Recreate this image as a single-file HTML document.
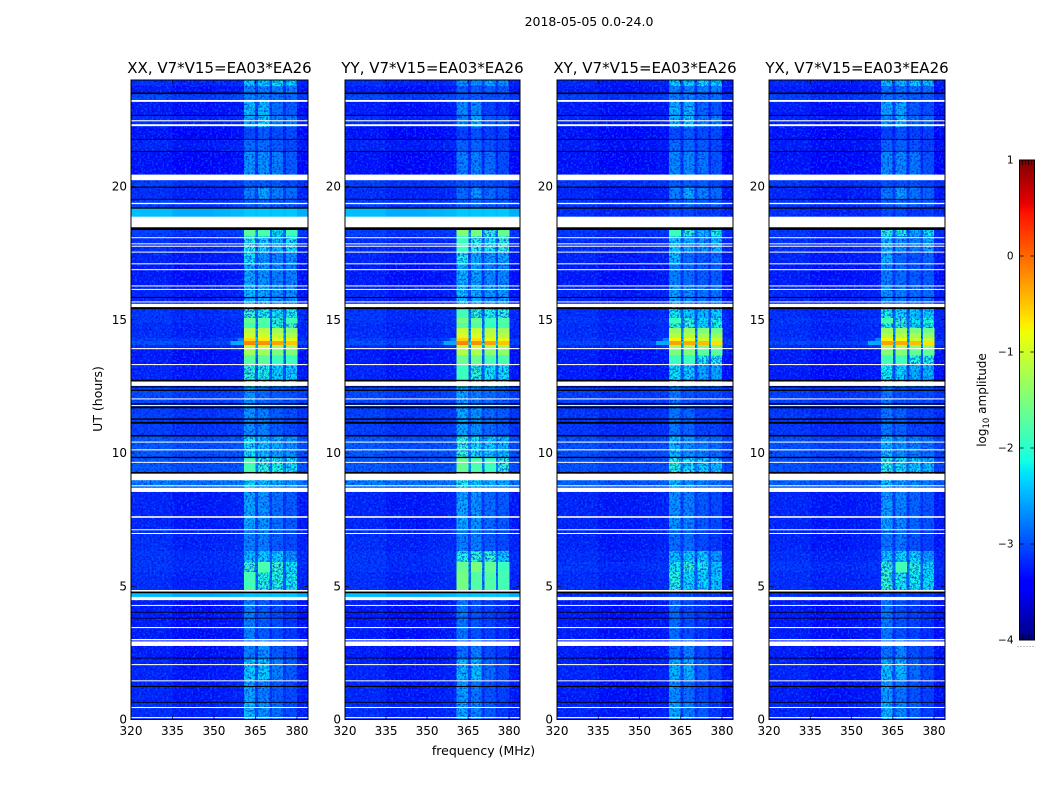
<!DOCTYPE html>
<html lang="en">
<head>
<meta charset="utf-8">
<title>2018-05-05 0.0-24.0</title>
<style>
html,body{margin:0;padding:0;background:#fff;}
#chart{display:block;width:1050px;height:800px;font-family:"DejaVu Sans","Liberation Sans",sans-serif;fill:#000;}
.tick{font-size:12px;}
.label{font-size:12.5px;}
.ptitle{font-size:15px;}
</style>
</head>
<body>
<svg id="chart" xmlns="http://www.w3.org/2000/svg" width="1050" height="800" viewBox="0 0 1050 800">
  <defs>
    <filter id="speckle-light" x="0" y="0" width="100%" height="100%" color-interpolation-filters="sRGB">
      <feTurbulence type="fractalNoise" baseFrequency="0.48" numOctaves="2" seed="4"/>
      <feColorMatrix type="matrix" values="0 0 0 0 0  0 0 0 0 0.36  0 0 0 0 1  8 0 0 0 -4.2"/>
    </filter>
    <filter id="speckle-dark" x="0" y="0" width="100%" height="100%" color-interpolation-filters="sRGB">
      <feTurbulence type="fractalNoise" baseFrequency="0.48" numOctaves="2" seed="11"/>
      <feColorMatrix type="matrix" values="0 0 0 0 0  0 0 0 0 0  0 0 0 0 0.8  0 8 0 0 -4.2"/>
    </filter>
  </defs>
  <text x="589" y="26" text-anchor="middle" class="label">2018-05-05 0.0-24.0</text>
  <text x="0" y="0" text-anchor="middle" class="label" transform="translate(102,399) rotate(-90)">UT (hours)</text>
  <text x="483.5" y="755" text-anchor="middle" class="label">frequency (MHz)</text>
  <text x="0" y="0" text-anchor="middle" font-size="12" transform="translate(986,400) rotate(-90)">log<tspan font-size="8.5" dy="3">10</tspan><tspan dy="-3"> amplitude</tspan></text>
  <g id="panels"></g>
  <g id="colorbar"></g>
</svg>
<script>
// ---- chart data ----
const panelTitles = ["XX, V7*V15=EA03*EA26", "YY, V7*V15=EA03*EA26", "XY, V7*V15=EA03*EA26", "YX, V7*V15=EA03*EA26"];
const xTicks = [320, 335, 350, 365, 380];
const yTicks = [0, 5, 10, 15, 20];
const colorTicks = [-4, -3, -2, -1, 0, 1];
const freqEdges = [320, 335, 350, 356, 360.8, 364.9, 366, 370, 371, 375, 376, 380, 384];
// offset in log10 amplitude of each background bin relative to the band level
const bgTilt = [0.05, -0.03, 0.0, 0.03];
const bgTiltRight = -0.02;
// UT hours bounding each time band, top to bottom
const bandEdges = [24,23.77,23.51,23.25,22.68,22.23,21.78,21.33,20.43,20.24,19.98,19.53,19.17,18.87,18.37,18.14,17.54,17.09,16.31,15.41,15.07,14.88,14.69,14.50,14.32,14.20,14.05,13.87,13.68,13.30,12.48,11.69,10.64,9.81,9.21,8.72,7.11,6.33,5.91,5.54,4.75,4.60,2.99,2.24,1.49,0.66,0];
const bgParallel = [-3.2,-3.3,-3.05,-3.3,-3.2,-3.35,-3.25,-3.35,-3.1,-3.1,-3.2,-3.1,-2.5,-3.2,-3.1,-3.2,-3.25,-3.3,-3.25,-3.15,-3.15,-3.2,-3.2,-3.2,-3.1,-3.0,-3.2,-3.3,-3.3,-3.25,-3.05,-3.1,-2.95,-2.95,-2.75,-3.25,-3.2,-3.15,-3.15,-3.2,-2.5,-3.3,-3.3,-3.25,-3.25,-3.2];
const bgCross = [-3.25,-3.3,-3.1,-3.3,-3.25,-3.35,-3.3,-3.35,-3.1,-3.15,-3.25,-3.15,-3.2,-3.2,-3.15,-3.2,-3.25,-3.3,-3.25,-3.2,-3.15,-3.2,-3.2,-3.2,-3.15,-3.05,-3.2,-3.3,-3.3,-3.3,-3.1,-3.15,-3.0,-3.0,-2.9,-3.25,-3.25,-3.2,-3.15,-3.2,-3.2,-3.3,-3.3,-3.25,-3.3,-3.25];
// XX level of the four spectral windows in each band
const chanXX = [
[-2.3,-2.3,-2.2,-2.3],[-2.7,-2.7,-2.7,-2.7],[-2.7,-2.7,-2.8,-2.8],[-2.4,-2.4,-2.8,-2.9],
[-2.5,-2.3,-2.7,-2.7],[-3.0,-2.9,-3.0,-3.0],[-2.8,-2.8,-2.9,-3.0],[-2.6,-2.6,-2.7,-2.9],
[-2.9,-2.9,-2.9,-2.9],[-2.9,-2.9,-2.9,-3.0],[-2.7,-2.5,-2.7,-2.8],[-2.9,-2.8,-2.9,-2.9],
[-2.5,-2.5,-2.6,-2.7],[-2.9,-2.9,-2.9,-2.9],[-1.7,-1.8,-2.2,-1.9],[-2.1,-2.3,-2.4,-2.2],
[-2.2,-2.6,-2.7,-2.6],[-2.5,-2.6,-2.7,-2.7],[-2.4,-2.5,-2.6,-2.6],[-1.95,-2.1,-2.2,-2.1],
[-1.65,-1.75,-2.0,-1.85],[-1.85,-1.85,-2.05,-1.95],[-1.15,-1.15,-1.3,-1.4],[-1.0,-1.0,-1.1,-1.2],
[-0.6,-0.7,-0.9,-0.9],[-0.15,-0.2,-0.3,-0.5],[-1.1,-1.1,-1.3,-1.3],[-1.3,-1.3,-1.5,-1.5],
[-1.7,-1.7,-1.9,-1.9],[-2.0,-2.1,-2.3,-2.3],[-2.6,-2.8,-2.9,-3.0],[-2.6,-2.7,-2.9,-3.0],
[-2.2,-2.4,-2.5,-2.6],[-1.85,-2.0,-2.1,-2.2],[-2.2,-2.4,-2.5,-2.6],[-2.5,-2.6,-2.8,-2.9],
[-2.7,-2.7,-2.9,-3.0],[-2.4,-2.3,-2.3,-2.6],[-1.95,-1.8,-1.95,-2.2],[-1.85,-2.05,-2.05,-2.15],
[-2.5,-2.5,-2.6,-2.7],[-2.7,-2.9,-3.0,-3.1],[-2.7,-2.6,-2.9,-3.0],[-2.3,-2.3,-2.7,-2.9],
[-2.5,-2.7,-2.9,-3.0],[-2.4,-2.6,-2.8,-3.0]
];
// per-band channel level shift of the other three correlations against XX
const offsetYY = [-0.3,-0.2,-0.2,-0.25,-0.2,-0.05,-0.05,-0.1,0,-0.05,-0.1,0,-0.05,0,0.25,0.2,0.1,0.05,0.05,0.1,0.1,0.1,0.1,0.05,0.05,0,0.05,0.1,0.1,0.1,0.1,0.1,0.2,0.2,0.1,0,0,0.3,0.3,0.3,0,-0.05,-0.1,-0.1,-0.05,-0.1];
const offsetXY = [0,0,0,-0.05,0,0,0,-0.05,0,0,0,0,-0.5,0,-0.2,-0.2,-0.2,-0.2,-0.15,-0.2,-0.25,-0.2,-0.2,-0.15,-0.15,-0.15,-0.2,-0.2,-0.2,-0.2,-0.15,-0.15,-0.2,-0.2,-0.2,-0.1,-0.1,0,-0.2,-0.2,-0.5,-0.1,-0.1,-0.15,-0.1,-0.1];
const offsetYX = [-0.1,-0.1,-0.1,-0.1,-0.1,-0.05,-0.05,-0.05,0,-0.05,-0.05,0,-0.5,0,-0.3,-0.3,-0.25,-0.2,-0.2,-0.15,-0.2,-0.2,-0.2,-0.15,-0.15,-0.15,-0.15,-0.15,-0.15,-0.15,-0.15,-0.15,-0.2,-0.2,-0.15,-0.05,-0.05,0.05,-0.05,-0.1,-0.5,-0.05,-0.05,-0.1,-0.05,-0.05];
const chanOffsets = [null, offsetYY, offsetXY, offsetYX];
// faint spill of the RFI burst below the first window: [hourTop, hourBottom, freqLow, freqHigh, level]
const spillBurst = [14.2, 14.05, 356, 360.8, -2.55];
const spillUpper = [14.32, 14.2, 358.5, 360.8, -2.75];
// time ranges flagged out (white) and instrument gaps (black): [hourTop, hourBottom]
const whiteFlags = [[23.25,23.18],[22.49,22.45],[22.34,22.27],[20.45,20.24],[19.39,19.34],[18.87,18.47],[18.10,18.07],[17.87,17.84],[17.78,17.75],[17.56,17.53],[17.12,17.09],[16.90,16.87],[16.29,16.26],[16.16,16.13],[15.69,15.66],[15.60,15.48],[13.94,13.90],[13.34,13.30],[12.68,12.52],[12.05,12.02],[11.80,11.77],[10.43,10.40],[10.14,10.10],[9.67,9.64],[9.22,8.98],[8.79,8.76],[8.70,8.54],[7.63,7.57],[7.14,7.11],[7.00,6.97],[4.86,4.80],[4.60,4.48],[4.30,4.27],[3.47,3.43],[3.02,2.97],[2.93,2.76],[2.08,2.04],[1.47,1.44],[0.47,0.43],[0.09,0.05]];
const blackLines = [[23.53,23.47],[22.69,22.66],[21.79,21.77],[21.34,21.32],[20.00,19.96],[19.54,19.52],[19.22,19.17],[18.47,18.37],[15.86,15.82],[15.46,15.40],[12.75,12.70],[12.50,12.46],[12.38,12.33],[11.87,11.82],[11.75,11.68],[11.30,11.25],[11.17,11.10],[10.68,10.62],[9.86,9.81],[9.29,9.24],[4.80,4.74],[4.04,4.02],[3.82,3.80],[2.32,2.29],[1.26,1.22],[0.66,0.63]];

// ---- axis functions ----
const panelLeft = [131, 345, 557, 769];
const panelWidth = [177, 175, 176, 176];
const plotTop = 80, plotBottom = 719.5;
const freqMin = 320, freqMax = 384, hourMax = 24;
function xScale(p, f) { return panelLeft[p] + (f - freqMin) / (freqMax - freqMin) * panelWidth[p]; }
function yScale(h) { return plotBottom - h / hourMax * (plotBottom - plotTop); }
function interp(t, xs, ys) {
  for (let i = 1; i < xs.length; i++) {
    if (t <= xs[i]) return ys[i - 1] + (t - xs[i - 1]) / (xs[i] - xs[i - 1]) * (ys[i] - ys[i - 1]);
  }
  return ys[ys.length - 1];
}
function jet(v) {
  const t = Math.max(0, Math.min(1, (v + 4) / 5));
  const r = interp(t, [0, .35, .66, .89, 1], [0, 0, 1, 1, .5]);
  const g = interp(t, [0, .125, .375, .64, .91, 1], [0, 0, 1, 1, 0, 0]);
  const b = interp(t, [0, .11, .34, .65, 1], [.5, 1, 1, 0, 0]);
  return "rgb(" + Math.round(r * 255) + "," + Math.round(g * 255) + "," + Math.round(b * 255) + ")";
}
const NS = "http://www.w3.org/2000/svg";
function mk(tag, attrs, parent) {
  const el = document.createElementNS(NS, tag);
  for (const k in attrs) el.setAttribute(k, attrs[k]);
  parent.appendChild(el);
  return el;
}
function bandBackground(p, band) { return (p < 2 ? bgParallel : bgCross)[band]; }
function cellLevel(p, band, bin) {
  const bg = bandBackground(p, band);
  const off = chanOffsets[p] ? chanOffsets[p][band] : 0;
  const ch = chanXX[band].map(function (c) { return c + off; });
  if (bin < 4) return bg + bgTilt[bin];
  if (bin === 11) return bg + bgTiltRight;
  const k = bin - 4;
  if (k % 2 === 0) return Math.max(ch[k / 2], bg + 0.1);
  const mean = (ch[(k - 1) / 2] + ch[(k + 1) / 2]) / 2;
  return Math.max(bg + 0.3 * (mean - bg), bg + 0.05);
}

// ---- draw the four panels ----
const panelsRoot = document.getElementById("panels");
panelTitles.forEach(function (title, p) {
  const g = mk("g", {}, panelsRoot);
  
  

  const cells = mk("g", { "shape-rendering": "crispEdges" }, g);
  
  

  const w = panelWidth[p], h = plotBottom - plotTop;
  const lightNoise = mk("rect", { x: panelLeft[p], y: plotTop, width: w, height: h, filter: "url(#speckle-light)", opacity: 0.7 }, g);
  
  
  const darkNoise = mk("rect", { x: panelLeft[p], y: plotTop, width: w, height: h, filter: "url(#speckle-dark)", opacity: 0.5 }, g);
  
  

  // strong, smooth signal is drawn above the speckle layers
  const brightCells = mk("g", { "shape-rendering": "crispEdges" }, g);
  
  

  for (let b = 0; b < bandEdges.length - 1; b++) {
    for (let f = 0; f < freqEdges.length - 1; f++) {
      const x0 = xScale(p, freqEdges[f]), x1 = xScale(p, freqEdges[f + 1]);
      const y0 = yScale(bandEdges[b]), y1 = yScale(bandEdges[b + 1]);
      const level = cellLevel(p, b, f);
      const smooth = level > -1.95 || bandBackground(p, b) > -2.6;
      const cell = mk("rect", { x: x0, y: y0, width: x1 - x0 + 0.5, height: y1 - y0 + 0.5, fill: jet(level) }, smooth ? brightCells : cells);
      
      
    }
  }
  [spillBurst, spillUpper].forEach(function (s) {
    const burst = mk("rect", { x: xScale(p, s[2]), y: yScale(s[0]), width: xScale(p, s[3]) - xScale(p, s[2]), height: yScale(s[1]) - yScale(s[0]), fill: jet(s[4]) }, brightCells);
    
    
  });

  whiteFlags.forEach(function (r) {
    const flag = mk("rect", { x: panelLeft[p], y: yScale(r[0]), width: w, height: Math.max(yScale(r[1]) - yScale(r[0]), 1), fill: "#fff" }, g);
    
    
  });
  blackLines.forEach(function (r) {
    const gapLine = mk("rect", { x: panelLeft[p], y: yScale(r[0]), width: w, height: Math.max(yScale(r[1]) - yScale(r[0]), 0.8), fill: "#000" }, g);
    
    
  });

  const frame = mk("rect", { x: panelLeft[p], y: plotTop, width: w, height: h, fill: "none", stroke: "#000", "stroke-width": 1 }, g);
  
  

  xTicks.forEach(function (t) {
    const x = xScale(p, t);
    const tickB = mk("line", { x1: x, x2: x, y1: plotBottom, y2: plotBottom - 4, stroke: "#000", "stroke-width": 0.7 }, g);
    
    
    const tickT = mk("line", { x1: x, x2: x, y1: plotTop, y2: plotTop + 4, stroke: "#000", "stroke-width": 0.7 }, g);
    
    
    const lab = mk("text", { x: x, y: 735, "text-anchor": "middle", "class": "tick" }, g);
    
    
    lab.textContent = t;
  });
  yTicks.forEach(function (t) {
    const y = yScale(t);
    const tickL = mk("line", { x1: panelLeft[p], x2: panelLeft[p] + 4, y1: y, y2: y, stroke: "#000", "stroke-width": 0.7 }, g);
    
    
    const tickR = mk("line", { x1: panelLeft[p] + w, x2: panelLeft[p] + w - 4, y1: y, y2: y, stroke: "#000", "stroke-width": 0.7 }, g);
    
    
    const lab = mk("text", { x: panelLeft[p] - 4, y: y + 4, "text-anchor": "end", "class": "tick" }, g);
    
    
    lab.textContent = t;
  });

  const titleEl = mk("text", { x: panelLeft[p] + w / 2, y: 73, "text-anchor": "middle", "class": "ptitle" }, g);
  
  
  titleEl.textContent = title;
});

// ---- colorbar ----
const cbRoot = document.getElementById("colorbar");
const cbLeft = 1019.5, cbRight = 1034.5, cbTop = 160, cbBottom = 640;
const cbMin = colorTicks[0], cbMax = colorTicks[colorTicks.length - 1];
function cbScale(v) { return cbBottom - (v - cbMin) / (cbMax - cbMin) * (cbBottom - cbTop); }
const cbSteps = 240;
for (let i = 0; i < cbSteps; i++) {
  const v0 = cbMin + i / cbSteps * (cbMax - cbMin);
  const v1 = cbMin + (i + 1) / cbSteps * (cbMax - cbMin);
  const strip = mk("rect", { x: cbLeft, y: cbScale(v1), width: cbRight - cbLeft, height: cbScale(v0) - cbScale(v1) + 0.5, fill: jet((v0 + v1) / 2), "shape-rendering": "crispEdges" }, cbRoot);
  
  
}
const cbFrame = mk("rect", { x: cbLeft, y: cbTop, width: cbRight - cbLeft, height: cbBottom - cbTop, fill: "none", stroke: "#000", "stroke-width": 1 }, cbRoot);


colorTicks.forEach(function (t) {
  const y = cbScale(t);
  const tL = mk("line", { x1: cbLeft, x2: cbLeft + 4, y1: y, y2: y, stroke: "#000", "stroke-width": 0.8 }, cbRoot);
  
  
  const tR = mk("line", { x1: cbRight, x2: cbRight - 4, y1: y, y2: y, stroke: "#000", "stroke-width": 0.8 }, cbRoot);
  
  
  const lab = mk("text", { x: 1013.5, y: y + 3.5, "text-anchor": "end", "font-size": "10.5" }, cbRoot);
  
  
  lab.textContent = String(t).replace("-", "\u2212");
});
const minorOffsets = [3, 6, 9, 12];
minorOffsets.forEach(function (dx) {
  const topMinor = mk("line", { x1: cbLeft + dx, x2: cbLeft + dx, y1: cbTop, y2: cbTop + 5, stroke: "#000", "stroke-width": 0.7 }, cbRoot);
  
  
  const botMinor = mk("line", { x1: cbLeft + dx, x2: cbLeft + dx, y1: cbBottom, y2: cbBottom - 5, stroke: "#000", "stroke-width": 0.7 }, cbRoot);
  
  
});
const cbDots = mk("line", { x1: 1017.5, x2: 1035, y1: 646.5, y2: 646.5, stroke: "#888", "stroke-width": 1, "stroke-dasharray": "1 2" }, cbRoot);


</script>
</body>
</html>
